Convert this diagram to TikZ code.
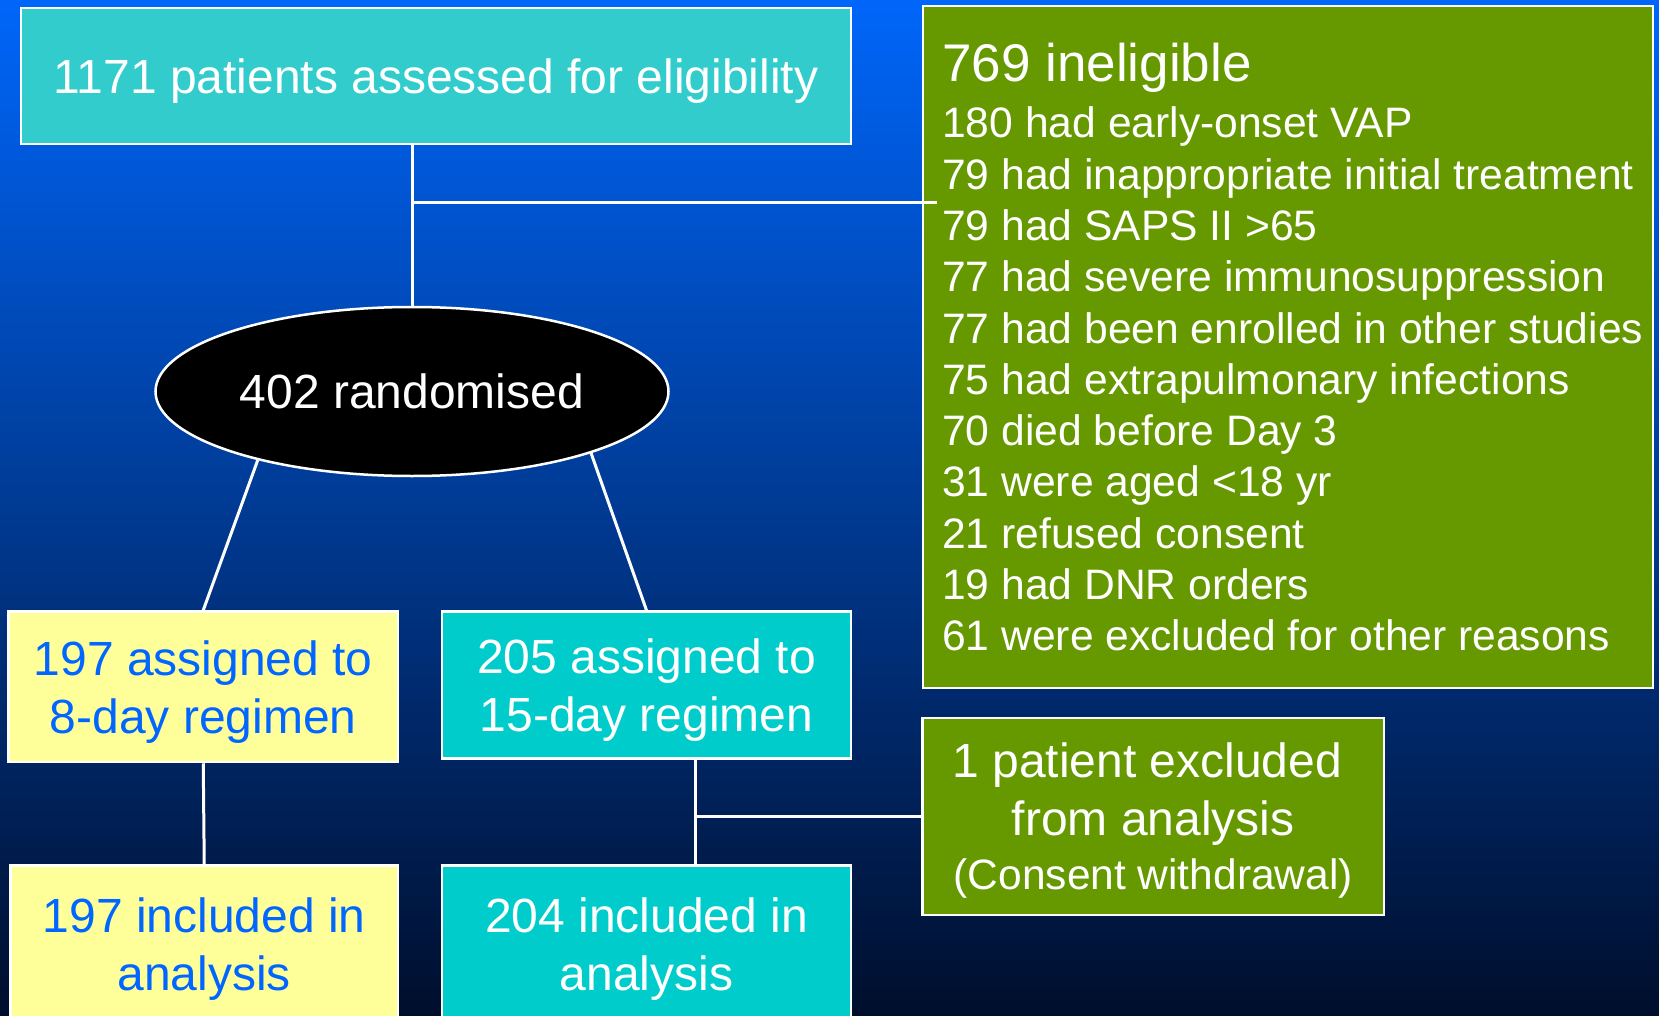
\documentclass[tikz,border=0pt]{standalone}
\usepackage{fontspec}
\setmainfont{Liberation Sans}
\usetikzlibrary{shapes.geometric}
\definecolor{skytop}{RGB}{0,102,250}
\definecolor{navybottom}{RGB}{0,14,44}
\definecolor{tealtop}{HTML}{33CCCC}
\definecolor{tealbox}{HTML}{00CCCC}
\definecolor{lemon}{HTML}{FFFF99}
\definecolor{boxgreen}{HTML}{669900}
\definecolor{textblue}{HTML}{0066FF}

\begin{document}
\begin{tikzpicture}
[x = 1pt, y = -1pt, every node/.style = {shape = rectangle, draw = white, line width = 2.5pt, align = center, inner sep = 0pt, text depth = 0pt, text = white, font = \fontsize{48}{58}\selectfont}, link/.style = {draw = white, line width = 3pt}]
\useasboundingbox (0,0) rectangle (1659,1016);
\clip (0,0) rectangle (1659,1016);
\shade[top color = skytop, bottom color = navybottom] (0,0) rectangle (1659,1016);
\node[fill = tealtop, minimum width = 830pt, minimum height = 136pt] (assessed) at (436,76) {1171 patients assessed for eligibility};
\node[fill = boxgreen, align = left, minimum width = 730pt, minimum height = 682pt, font = \fontsize{42.6}{51.3}\selectfont] (ineligible) at (1288,347)
   {{\fontsize{53}{58}\selectfont 769 ineligible}\\[5pt]
    180 had early-onset VAP\\
    79 had inappropriate initial treatment\\
    79 had SAPS II >65\\
    77 had severe immunosuppression\\
    77 had been enrolled in other \rlap{studies}\\
    75 had extrapulmonary infections\\
    70 died before Day 3\\
    31 were aged <18 yr\\
    21 refused consent\\
    19 had DNR orders\\
    61 were excluded for other reasons};
\node[ellipse, fill = black, minimum width = 513pt, minimum height = 169pt] (randomised) at (412,391.5) {402 randomised};
\node[fill = lemon, text = textblue, minimum width = 389.5pt, minimum height = 150.5pt] (assigned8) at (203.25,686.75) {197 assigned to\\8-day regimen};
\node[fill = tealbox, minimum width = 409pt, minimum height = 147pt] (assigned15) at (646.5,685) {205 assigned to\\15-day regimen};
\node[fill = lemon, text = textblue, minimum width = 387.5pt, minimum height = 157pt] (included8) at (204.25,944) {197 included in\\analysis};
\node[fill = tealbox, minimum width = 409pt, minimum height = 157pt] (included15) at (646.5,944) {204 included in\\analysis};
\node[fill = boxgreen, minimum width = 461.5pt, minimum height = 197pt] (excluded) at (1153.25,816.5)
   {1 patient excluded\hspace*{12pt}\\from analysis\\[-4pt]{\fontsize{42.5}{54}\selectfont (Consent withdrawal)}};
\coordinate (split1) at (412,203);
\coordinate (split2) at (695,816.5);
\draw[link] (randomised.north) -- (randomised.north |- assessed.south);
\draw[link] (split1) -- ([xshift = 15pt]split1 -| ineligible.west);
\draw[link] (randomised.204) -- (assigned8.north);
\draw[link] (randomised.341) -- (assigned15.north);
\draw[link] (assigned8.south) -- (included8.north);
\draw[link] (split2 |- assigned15.south) -- (split2 |- included15.north);
\draw[link] (split2) -- (excluded.west);
\end{tikzpicture}
\end{document}
